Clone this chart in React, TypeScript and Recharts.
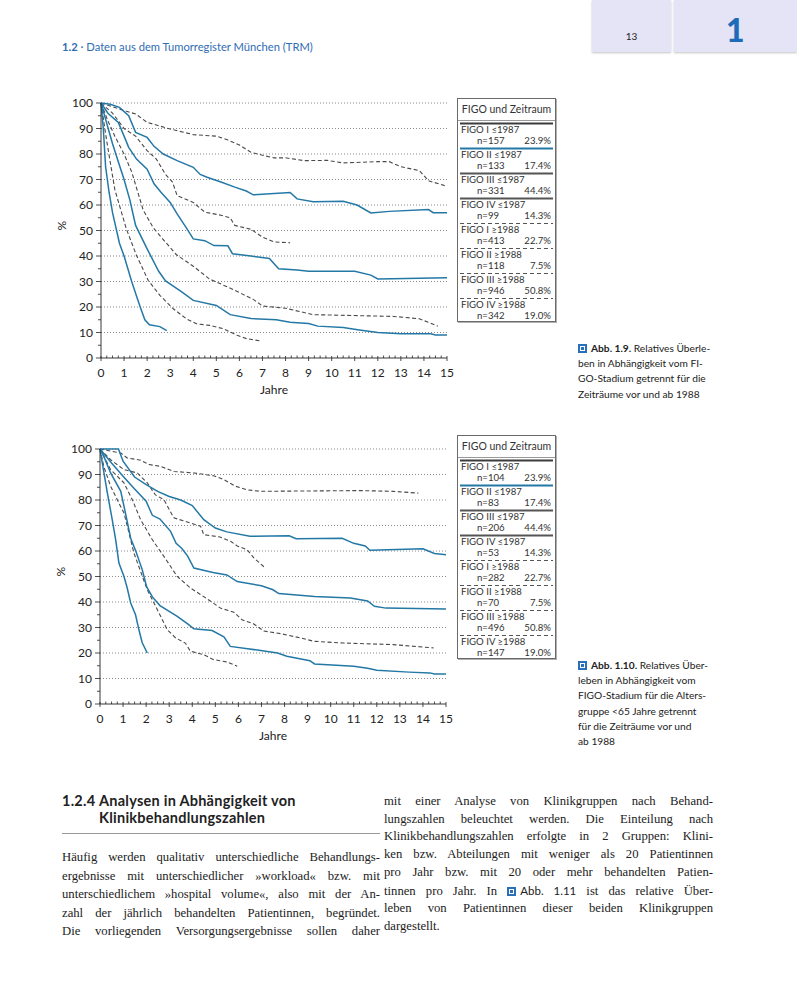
import React from 'react';
import { LineChart, Line, XAxis, YAxis, CartesianGrid, Legend } from 'recharts';

type Pt = [number, number];

// Abb. 1.9 – all ages, [years, % relative survival]
const a19StageIOld: Pt[] = [[0, 100], [0.4, 99.5], [0.8, 98.3], [1.2, 95], [1.5, 88.5], [2, 86.5], [2.3, 83], [2.7, 80], [3.3, 77.4], [4, 74.8], [4.3, 72], [4.6, 70.9], [5.2, 69], [5.8, 67], [6.3, 65.5], [6.6, 64], [8.2, 64.9], [8.5, 62.4], [9.2, 61.3], [10.5, 61.5], [11.1, 60], [11.7, 56.9], [12.5, 57.5], [14.2, 58.2], [14.4, 57], [15, 57]];
const a19StageIIOld: Pt[] = [[0, 100], [0.3, 96], [0.75, 92.4], [1, 87], [1.2, 82.6], [1.54, 78], [2, 74], [2.3, 68.3], [2.6, 65], [3, 61], [3.3, 56.5], [3.7, 51], [4, 46.7], [4.5, 46], [4.9, 44.1], [5.5, 44], [5.7, 40.9], [6.5, 40], [7.3, 39], [7.7, 35], [8.5, 34.5], [9, 34], [11, 34], [11.7, 32.5], [12, 31], [15, 31.5]];
const a19StageIIIOld: Pt[] = [[0, 100], [0.25, 92], [0.5, 84], [0.75, 77], [1, 70], [1.25, 62], [1.5, 52], [2, 42.8], [2.5, 34], [2.8, 30.2], [3.5, 25.9], [4, 22.6], [5, 20.6], [5.6, 17], [6.5, 15.5], [7.6, 15], [8.2, 14], [9, 13.5], [9.4, 12.5], [10.5, 12], [11.2, 11], [12, 10], [13, 9.5], [14.3, 9.5], [14.5, 9], [15, 9]];
const a19StageIVOld: Pt[] = [[0, 100], [0.1, 90], [0.2, 75], [0.35, 65], [0.5, 57], [0.8, 45], [1, 40], [1.33, 30], [1.55, 24], [1.7, 20], [1.9, 15], [2.1, 13], [2.55, 12.3], [2.85, 10.7]];
const a19StageINew: Pt[] = [[0, 100], [0.8, 97.6], [1.5, 95.7], [2, 92.4], [3, 89.8], [4, 87.6], [5, 87], [5.5, 85.5], [6, 83.5], [6.5, 80.7], [7, 79.5], [7.5, 78.5], [8, 78.5], [8.8, 77.4], [9.8, 77.5], [10.5, 76.5], [12, 77], [12.5, 77], [13, 75], [13.8, 73.5], [14.2, 69.5], [14.9, 67.6]];
const a19StageIINew: Pt[] = [[0, 100], [0.5, 96], [1, 90], [1.5, 87], [2, 81.3], [2.4, 78], [2.8, 72], [3.1, 69], [3.3, 63.7], [4, 61], [4.5, 57.2], [5.2, 56], [5.6, 55], [5.8, 52], [6.5, 50.5], [7, 47.4], [7.5, 45.5], [8.2, 45.2]];
const a19StageIIINew: Pt[] = [[0, 100], [0.3, 93], [0.6, 87], [1, 80], [1.33, 73], [1.83, 58], [2.27, 51], [2.77, 45.7], [3.27, 40.5], [4, 36], [4.7, 31], [5, 29.8], [5.7, 27], [6.6, 23], [7, 20.4], [8, 19.5], [9.2, 17], [12.7, 16.3], [13.8, 15.4], [14.6, 12.5]];
const a19StageIVNew: Pt[] = [[0, 100], [0.25, 85], [0.6, 66], [1.1, 50.6], [1.54, 40.2], [2.05, 30.4], [2.55, 24.6], [3.13, 19.3], [3.7, 15.4], [4.14, 13.4], [4.7, 12.8], [5.3, 11.5], [5.9, 8.9], [6.3, 7.6], [6.9, 6.7]];

// Abb. 1.10 – age group < 65
const a110StageIOld: Pt[] = [[0, 100], [0.8, 100], [1, 95.2], [1.5, 89], [2, 86], [2.5, 83.4], [3, 81.4], [3.5, 80], [4, 77.8], [4.5, 72.3], [5, 69], [5.5, 67.5], [6.5, 65.8], [8.2, 66], [8.5, 64.8], [10.5, 65], [11, 63], [11.5, 62], [11.7, 60.3], [14, 60.9], [14.5, 59], [15, 58.5]];
const a110StageIIOld: Pt[] = [[0, 100], [0.5, 94.5], [1, 89.3], [1.5, 84.3], [2, 79.5], [2.27, 74], [2.6, 72.5], [3.06, 67.7], [3.3, 63], [3.55, 61], [3.8, 58], [4.07, 53.3], [4.9, 51.6], [5.5, 50.6], [5.95, 48], [7, 46.4], [7.5, 44.8], [7.75, 43.3], [9.3, 42.2], [10.85, 41.6], [11.6, 40.4], [11.9, 38.3], [12.4, 37.6], [15, 37.3]];
const a110StageIIIOld: Pt[] = [[0, 100], [0.17, 97], [0.46, 90.6], [0.9, 83.4], [1.1, 75], [1.33, 65], [1.55, 60], [1.83, 52.7], [2.02, 46], [2.27, 42], [2.6, 38.6], [3.35, 34.4], [3.8, 31.4], [4.07, 29.5], [4.86, 28.8], [5.37, 26.3], [5.65, 22.6], [6.4, 21.7], [7.7, 20], [8.1, 18.7], [9.1, 17], [9.3, 15.7], [11, 14.8], [11.6, 14], [12, 13.2], [13.4, 12.5], [14.3, 12.2], [14.5, 11.8], [15, 11.8]];
const a110StageIVOld: Pt[] = [[0, 100], [0.1, 94.5], [0.32, 82.7], [0.53, 72.3], [0.68, 64.4], [0.82, 55.3], [1.04, 50], [1.18, 45.5], [1.33, 39.6], [1.54, 35], [1.69, 29], [1.83, 24], [2.05, 20]];
const a110StageINew: Pt[] = [[0, 100], [0.9, 98.4], [1.18, 96.5], [1.76, 95.6], [2.12, 93.9], [2.63, 93.2], [3.2, 91.2], [4.07, 90.6], [4.93, 89.5], [5.37, 88], [5.87, 85.4], [6.38, 84], [6.95, 83.4], [11.3, 83.7], [12.7, 83.4], [13.8, 82.7]];
const a110StageIINew: Pt[] = [[0, 100], [0.46, 95.8], [1.04, 91.9], [1.62, 90.6], [2.05, 86.7], [2.4, 82], [2.77, 80.1], [3.2, 73], [3.92, 71], [4.36, 69.7], [4.5, 66.4], [5.2, 65.5], [5.66, 63.8], [5.95, 62], [6.38, 60.5], [6.67, 57.3], [7.17, 53.3]];
const a110StageIIINew: Pt[] = [[0, 100], [0.46, 91.9], [1.04, 86.7], [1.4, 80.1], [1.76, 72.3], [2.27, 64.4], [2.77, 57.9], [3.35, 50], [3.92, 45.5], [4.36, 42.9], [4.8, 40.3], [5.22, 37.6], [5.8, 36], [6.16, 33], [6.67, 31.4], [7.1, 28.6], [7.82, 27.6], [8.7, 25.9], [9.26, 24.6], [10.56, 23.9], [12.7, 23.3], [14.46, 22]];
const a110StageIVNew: Pt[] = [[0, 100], [0.17, 93], [0.46, 85.4], [0.82, 78.8], [1.04, 74.9], [1.26, 67], [1.47, 59.2], [1.76, 52], [2.05, 44.8], [2.34, 39.6], [2.63, 34.4], [2.91, 29.2], [3.28, 25.9], [3.7, 23.9], [3.92, 20.7], [4.5, 19.3], [4.93, 17.4], [5.5, 16.5], [5.95, 14.8]];

const figoLabels = ['FIGO I ≤1987', 'FIGO II ≤1987', 'FIGO III ≤1987', 'FIGO IV ≤1987', 'FIGO I ≥1988', 'FIGO II ≥1988', 'FIGO III ≥1988', 'FIGO IV ≥1988'];
const a19Counts = [157, 133, 331, 99, 413, 118, 946, 342];
const a110Counts = [104, 83, 206, 53, 282, 70, 496, 147];
const stageShares = ['23.9%', '17.4%', '44.4%', '14.3%', '22.7%', '7.5%', '50.8%', '19.0%'];

const yearTicks = [0, 1, 2, 3, 4, 5, 6, 7, 8, 9, 10, 11, 12, 13, 14, 15];
const percentTicks = [0, 10, 20, 30, 40, 50, 60, 70, 80, 90, 100];
const gridValues = [10, 20, 30, 40, 50, 60, 70, 80, 90, 100];
const yearMinor = Array.from({ length: 61 }, (_, i) => i * 0.25);
const percentMinor = Array.from({ length: 21 }, (_, i) => i * 5);

const SOLID = '#2478a6';
const DASHED = '#4a4a4a';
const legendSolidColors = ['#3c3c3c', SOLID, '#555', '#555'];
const TEXT = '#222';

const rows = (pts: Pt[]) => pts.map(([t, s]) => ({ t, s }));

function YTick(props: any) {
  const { x, y, payload } = props;
  const ax = x + 8;
  const major = percentTicks.includes(payload.value);
  return (
    <g>
      <line x1={major ? ax - 5 : ax - 3} x2={ax} y1={y} y2={y} stroke="#222" strokeWidth={0.8} />
      {major && (
        <text x={x} y={y + 4} textAnchor="end" fontSize={12} fill={TEXT} fontFamily="Lato">
          {payload.value}
        </text>
      )}
    </g>
  );
}

function XTick(props: any) {
  const { x, y, payload } = props;
  const ay = y - 8;
  const major = Math.abs(payload.value - Math.round(payload.value)) < 1e-6;
  return (
    <g>
      {major ? (
        <line x1={x} x2={x} y1={ay - 2} y2={ay + 3} stroke="#222" strokeWidth={0.8} />
      ) : (
        <line x1={x} x2={x} y1={ay - 2.5} y2={ay} stroke="#222" strokeWidth={0.8} />
      )}
      {major && yearTicks.includes(Math.round(payload.value)) && (
        <text x={x} y={y + 11} textAnchor="middle" fontSize={12} fill={TEXT} fontFamily="Lato">
          {Math.round(payload.value)}
        </text>
      )}
    </g>
  );
}

function FigoLegend({ counts }: { counts: number[] }) {
  return (
    <div
      style={{
        width: 99,
        height: 224,
        boxSizing: 'border-box',
        border: '1px solid #6a6a6a',
        boxShadow: '1px 1px 0 #b0b0b0',
        background: '#fff',
        fontFamily: 'Lato',
        fontSize: 9.6,
        lineHeight: '10px',
        color: '#333',
        position: 'relative',
      }}
    >
      <div style={{ position: 'absolute', left: 0, right: 0, top: 0, height: 21, borderBottom: '1px solid #999', textAlign: 'center', lineHeight: '21px', fontSize: 10.5 }}>
        FIGO und Zeitraum
      </div>
      {figoLabels.map((lab, i) => {
        const top = 24 + i * 25;
        const dashed = i >= 4;
        return (
          <div key={lab} style={{ position: 'absolute', left: 0, right: 0, top, height: 25 }}>
            <svg width={97} height={3} style={{ position: 'absolute', left: 0, top: -1 }}>
              <line
                x1={2}
                x2={95}
                y1={1.5}
                y2={1.5}
                stroke={dashed ? '#555' : legendSolidColors[i]}
                strokeWidth={dashed ? 1.2 : 1.8}
                strokeDasharray={dashed ? '4 3' : undefined}
              />
            </svg>
            <div style={{ position: 'absolute', left: 3, top: 2 }}>{lab}</div>
            <div style={{ position: 'absolute', left: 19, top: 12.5 }}>n={counts[i]}</div>
            <div style={{ position: 'absolute', right: 4, top: 12.5 }}>{stageShares[i]}</div>
          </div>
        );
      })}
    </div>
  );
}

function SurvivalChart({
  solid,
  dashed,
  counts,
  legendLeft,
  legendTop,
}: {
  solid: Pt[][];
  dashed: Pt[][];
  counts: number[];
  legendLeft: number;
  legendTop: number;
}) {
  return (
    <LineChart width={520} height={310} margin={{ top: 13, right: 113, bottom: 2, left: 0 }}>
      <CartesianGrid vertical={false} horizontalValues={gridValues} stroke="#8a8a8a" strokeDasharray="1 2" />
      <XAxis
        dataKey="t"
        type="number"
        domain={[0, 15]}
        ticks={yearMinor}
        interval={0}
        tick={<XTick />}
        tickLine={false}
        tickSize={4}
        tickMargin={4}
        axisLine={{ stroke: '#222', strokeWidth: 0.9 }}
        height={40}
        allowDuplicatedCategory={false}
        label={{ value: 'Jahre', position: 'insideBottom', offset: 4, fontSize: 12, fill: TEXT, fontFamily: 'Lato' }}
      />
      <YAxis
        type="number"
        domain={[0, 100]}
        ticks={percentMinor}
        interval={0}
        width={61}
        tick={<YTick />}
        tickLine={false}
        tickSize={5}
        tickMargin={3}
        axisLine={{ stroke: '#222', strokeWidth: 0.9 }}
        label={{ value: '%', angle: -90, position: 'insideLeft', offset: 22, fontSize: 12, fill: TEXT, fontFamily: 'Lato' }}
      />
      {dashed.map((pts, i) => (
        <Line
          key={'d' + i}
          data={rows(pts)}
          dataKey="s"
          type="linear"
          stroke={DASHED}
          strokeWidth={1.1}
          strokeDasharray="4 2.5"
          dot={false}
          activeDot={false}
          isAnimationActive={false}
        />
      ))}
      {solid.map((pts, i) => (
        <Line
          key={'s' + i}
          data={rows(pts)}
          dataKey="s"
          type="linear"
          stroke={SOLID}
          strokeWidth={1.5}
          dot={false}
          activeDot={false}
          isAnimationActive={false}
        />
      ))}
      <Legend
        layout="vertical"
        align="center"
        verticalAlign="middle"
        wrapperStyle={{ left: legendLeft, top: legendTop, width: 99, height: 224 }}
        content={() => <FigoLegend counts={counts} />}
      />
    </LineChart>
  );
}

function Marker() {
  return (
    <span
      style={{
        display: 'inline-block',
        width: 9,
        height: 9,
        background: '#2a70b8',
        boxShadow: 'inset 0 0 0 2px #2a70b8, inset 0 0 0 3px #fff',
        marginRight: 4,
        verticalAlign: '-1px',
      }}
    />
  );
}

const leftLines = [
  'Häufig werden qualitativ unterschiedliche Behandlungs-',
  'ergebnisse mit unterschiedlicher »workload« bzw. mit',
  'unterschiedlichem »hospital volume«, also mit der An-',
  'zahl der jährlich behandelten Patientinnen, begründet.',
  'Die vorliegenden Versorgungsergebnisse sollen daher',
];

function JustLine({ text, last }: { text: React.ReactNode; last?: boolean }) {
  return <div style={{ textAlign: 'justify', textAlignLast: last ? 'left' : 'justify' }}>{text}</div>;
}

export default function App() {
  const caption: React.CSSProperties = {
    position: 'absolute',
    left: 578,
    fontFamily: 'Lato',
    fontSize: 10.2,
    lineHeight: '15.2px',
    color: '#222',
  };
  const body: React.CSSProperties = {
    position: 'absolute',
    fontFamily: 'Liberation Serif',
    fontSize: 12.7,
    color: '#222',
    whiteSpace: 'nowrap',
  };
  return (
    <div style={{ position: 'absolute', left: 0, top: 0, width: 797, height: 1000, background: '#fff', overflow: 'hidden', fontFamily: 'Lato' }}>
      {/* page tabs */}
      <div style={{ position: 'absolute', left: 592, top: 0, width: 79, height: 52, background: '#e5e3f6', boxShadow: '0 1px 2px #c4c4c4', textAlign: 'center', fontSize: 10, lineHeight: '10px' }}>
        <div style={{ marginTop: 31, color: '#222' }}>13</div>
      </div>
      <div style={{ position: 'absolute', left: 674, top: 0, width: 123, height: 52, background: '#e5e3f6', boxShadow: '0 1px 2px #c4c4c4' }}>
        <div style={{ position: 'absolute', left: 52, top: 14, fontSize: 32, lineHeight: '32px', fontWeight: 900, color: '#1e6bb8' }}>1</div>
      </div>
      <div style={{ position: 'absolute', left: 62, top: 40, fontSize: 11.2, lineHeight: '14px', color: '#2f6db3' }}>
        <b>1.2</b> · Daten aus dem Tumorregister München (TRM)
      </div>

      <div style={{ position: 'absolute', left: 40, top: 90 }}>
        <SurvivalChart
          solid={[a19StageIOld, a19StageIIOld, a19StageIIIOld, a19StageIVOld]}
          dashed={[a19StageINew, a19StageIINew, a19StageIIINew, a19StageIVNew]}
          counts={a19Counts}
          legendLeft={417}
          legendTop={8}
        />
      </div>
      <div style={{ ...caption, top: 341 }}>
        <Marker />
        <b>Abb. 1.9.</b> Relatives Überle-
        <br />
        ben in Abhängigkeit vom FI-
        <br />
        GO-Stadium getrennt für die
        <br />
        Zeiträume vor und ab 1988
      </div>

      <div style={{ position: 'absolute', left: 39, top: 436 }}>
        <SurvivalChart
          solid={[a110StageIOld, a110StageIIOld, a110StageIIIOld, a110StageIVOld]}
          dashed={[a110StageINew, a110StageIINew, a110StageIIINew, a110StageIVNew]}
          counts={a110Counts}
          legendLeft={418}
          legendTop={-1}
        />
      </div>
      <div style={{ ...caption, top: 658 }}>
        <Marker />
        <b>Abb. 1.10.</b> Relatives Über-
        <br />
        leben in Abhängigkeit vom
        <br />
        FIGO-Stadium für die Alters-
        <br />
        gruppe &lt;65 Jahre getrennt
        <br />
        für die Zeiträume vor und
        <br />
        ab 1988
      </div>

      {/* section heading */}
      <div style={{ position: 'absolute', left: 62, top: 792, fontSize: 14.5, lineHeight: '17px', fontWeight: 700, letterSpacing: 0.25, color: '#222' }}>
        <span style={{ display: 'inline-block', width: 37 }}>1.2.4</span>Analysen in Abhängigkeit von
        <br />
        <span style={{ display: 'inline-block', width: 37 }} />
        Klinikbehandlungszahlen
      </div>
      <div style={{ position: 'absolute', left: 62, top: 833, width: 318, height: 1, background: '#9a9a9a' }} />

      <div style={{ ...body, left: 62, top: 848, width: 318, lineHeight: '18.5px' }}>
        {leftLines.map((l, i) => (
          <JustLine key={i} text={l} />
        ))}
      </div>

      <div style={{ ...body, left: 384, top: 793, width: 329, lineHeight: '17.7px' }}>
        <JustLine text="mit einer Analyse von Klinikgruppen nach Behand-" />
        <JustLine text="lungszahlen beleuchtet werden. Die Einteilung nach" />
        <JustLine text="Klinikbehandlungszahlen erfolgte in 2 Gruppen: Klini-" />
        <JustLine text="ken bzw. Abteilungen mit weniger als 20 Patientinnen" />
        <JustLine text="pro Jahr bzw. mit 20 oder mehr behandelten Patien-" />
        <JustLine
          text={
            <>
              tinnen pro Jahr. In <Marker />
              <span style={{ fontFamily: 'Lato', fontSize: 11.5 }}>Abb. 1.11</span> ist das relative Über-
            </>
          }
        />
        <JustLine text="leben von Patientinnen dieser beiden Klinikgruppen" />
        <JustLine text="dargestellt." last />
      </div>
    </div>
  );
}
